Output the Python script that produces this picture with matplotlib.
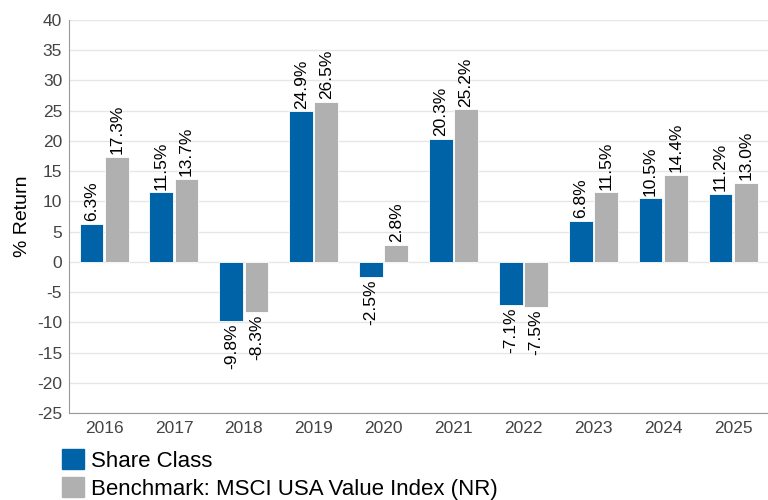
import numpy as np
import matplotlib.pyplot as plt
from matplotlib.patches import Patch

plt.rcParams['font.family'] = ['Liberation Sans', 'DejaVu Sans']
plt.rcParams['axes.unicode_minus'] = False

years = ['2016', '2017', '2018', '2019', '2020', '2021', '2022', '2023', '2024', '2025']
share_class = [6.3, 11.5, -9.8, 24.9, -2.5, 20.3, -7.1, 6.8, 10.5, 11.2]
benchmark = [17.3, 13.7, -8.3, 26.5, 2.8, 25.2, -7.5, 11.5, 14.4, 13.0]

blue = '#0063a8'
grey = '#b0b0b0'

fig = plt.figure(figsize=(7.68, 5.0), dpi=100)
ax = fig.add_axes([0.09, 0.174, 0.91, 0.786])

x = np.arange(len(years))
w = 0.34
b1 = ax.bar(x - w / 2 - 0.01, share_class, w, color=blue, edgecolor='white', linewidth=0.6, zorder=3)
b2 = ax.bar(x + w / 2 + 0.01, benchmark, w, color=grey, edgecolor='white', linewidth=0.6, zorder=3)

# labels rotated along the bars
for bars, vals in ((b1, share_class), (b2, benchmark)):
    for r, v in zip(bars, vals):
        cx = r.get_x() + r.get_width() / 2
        if v >= 0:
            ax.annotate(f'{v:.1f}%', (cx, v), xytext=(0, 2), textcoords='offset points',
                        rotation=90, ha='center', va='bottom', fontsize=12.5, color='black')
        else:
            ax.annotate(f'{v:.1f}%', (cx, v), xytext=(0, -2), textcoords='offset points',
                        rotation=90, ha='center', va='top', fontsize=12.5, color='black')

ax.set_ylim(-25, 40)
ax.set_yticks(np.arange(-25, 41, 5))
ax.set_xlim(-0.5, len(years) - 0.5)
ax.set_xticks(x)
ax.set_xticklabels(years)
ax.tick_params(axis='both', length=0, labelsize=12.5, colors='#444444', pad=6)
ax.tick_params(axis='y', pad=5)
ax.yaxis.grid(True, color='#e6e6e6', linewidth=1, zorder=0)
ax.set_axisbelow(True)
for s in ('top', 'right'):
    ax.spines[s].set_visible(False)
for s in ('left', 'bottom'):
    ax.spines[s].set_color('#999999')
ax.set_ylabel('% Return', fontsize=14, color='black', labelpad=4)

handles = [Patch(color=blue, label='Share Class'),
           Patch(color=grey, label='Benchmark: MSCI USA Value Index (NR)')]
fig.legend(handles=handles, loc='upper left', bbox_to_anchor=(62 / 768, 1 - 449 / 500), frameon=False,
           fontsize=16, handlelength=1.0, handleheight=1.0, handletextpad=0.3, labelspacing=0.25,
           borderpad=0, borderaxespad=0)

fig.savefig('out.png', dpi=100)
